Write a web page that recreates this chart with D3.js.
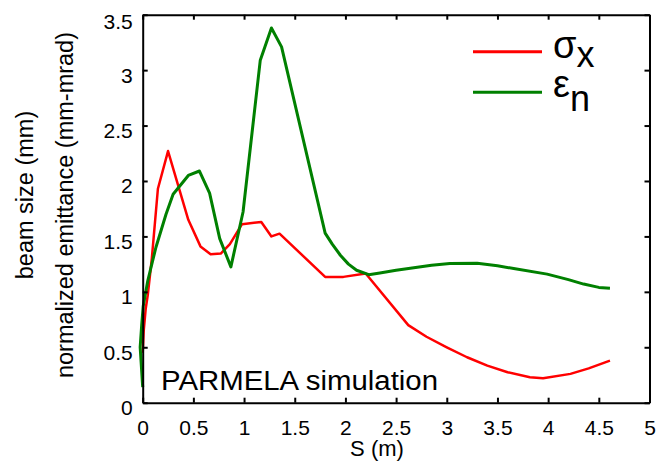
<!DOCTYPE html>
<html>
<head>
<meta charset="utf-8">
<script src="https://cdn.jsdelivr.net/npm/d3@7"></script>
<style>
  html, body { margin: 0; padding: 0; background: #fff; }
  svg { display: block; }
  text { font-family: "Liberation Sans", Arial, Helvetica, sans-serif; fill: #000; }
</style>
</head>
<body>
<svg id="chart" width="659" height="464"></svg>
<script>
// ---- data ----
const sigmaS = [0, 0.01, 0.03, 0.05, 0.09, 0.15, 0.25, 0.45, 0.57, 0.67, 0.77, 0.86, 0.98, 1.17, 1.27, 1.35, 1.80, 1.98, 2.20, 2.62, 2.80, 3.00, 3.20, 3.40, 3.60, 3.82, 3.95, 4.22, 4.40, 4.61];
const sigmaX = [0.45, 0.65, 0.85, 0.97, 1.30, 1.93, 2.27, 1.65, 1.41, 1.34, 1.345, 1.43, 1.61, 1.63, 1.50, 1.525, 1.135, 1.135, 1.165, 0.70, 0.595, 0.50, 0.41, 0.335, 0.275, 0.23, 0.22, 0.26, 0.31, 0.38];

const epsS = [0, -0.025, -0.01, 0.005, 0.05, 0.13, 0.23, 0.30, 0.45, 0.56, 0.66, 0.76, 0.87, 0.99, 1.16, 1.27, 1.37, 1.80, 1.87, 1.95, 2.03, 2.11, 2.23, 2.34, 2.50, 2.64, 2.85, 3.03, 3.30, 3.50, 3.66, 3.99, 4.20, 4.35, 4.50, 4.61];
const epsN = [0.14, 0.50, 0.70, 0.87, 1.10, 1.40, 1.70, 1.88, 2.05, 2.09, 1.89, 1.48, 1.225, 1.72, 3.09, 3.38, 3.21, 1.53, 1.43, 1.33, 1.25, 1.195, 1.155, 1.17, 1.195, 1.213, 1.24, 1.255, 1.258, 1.235, 1.21, 1.16, 1.11, 1.07, 1.04, 1.033];

const xTicks = [0, 0.5, 1, 1.5, 2, 2.5, 3, 3.5, 4, 4.5, 5];
const yTicks = [0, 0.5, 1, 1.5, 2, 2.5, 3, 3.5];
const xTickLabels = ["0", "0.5", "1", "1.5", "2", "2.5", "3", "3.5", "4", "4.5", "5"];
const yTickLabels = ["0", "0.5", "1", "1.5", "2", "2.5", "3", "3.5"];

const seriesNames = ["σ", "ε"];
const seriesSubs = ["x", "n"];
const seriesColors = ["#ff0000", "#008000"];

// ---- layout ----
const svg = d3.select("#chart");
const pLeft = 142.7, pRight = 649.5, pTop = 14.7, pBottom = 402.7;

const x = d3.scaleLinear().domain([0, 5]).range([pLeft, pRight]);
const y = d3.scaleLinear().domain([0, 3.5]).range([pBottom, pTop]);

// series lines
const line = d3.line().x(d => x(d[0])).y(d => y(d[1])).curve(d3.curveLinear);

const redData = sigmaS.map((s, i) => [s, sigmaX[i]]);
const greenData = epsS.map((s, i) => [s, epsN[i]]);

svg.append("path").datum(redData)
  .attr("d", line).attr("fill", "none")
  .attr("stroke", seriesColors[0]).attr("stroke-width", 2.5)
  .attr("stroke-linejoin", "round");

svg.append("path").datum(greenData)
  .attr("d", line).attr("fill", "none")
  .attr("stroke", seriesColors[1]).attr("stroke-width", 3)
  .attr("stroke-linejoin", "round");

// axes
function styleAxis(g) {
  g.select(".domain").attr("stroke", "#000").attr("stroke-width", 2);
  g.selectAll(".tick line").attr("stroke", "#000").attr("stroke-width", 2);
  g.selectAll(".tick text")
    .attr("font-family", "'Liberation Sans', Arial, sans-serif")
    .attr("font-size", 21).attr("fill", "#000");
}

const xAxisB = d3.axisBottom(x).tickValues(xTicks)
  .tickFormat((d, i) => xTickLabels[i]).tickSizeInner(-5).tickSizeOuter(0).tickPadding(17);
svg.append("g").attr("transform", `translate(0,${pBottom})`).call(xAxisB).call(styleAxis);

const xAxisT = d3.axisTop(x).tickValues(xTicks).tickFormat("").tickSizeInner(-5).tickSizeOuter(0);
svg.append("g").attr("transform", `translate(0,${pTop})`).call(xAxisT).call(styleAxis);

const yAxisL = d3.axisLeft(y).tickValues(yTicks)
  .tickFormat((d, i) => yTickLabels[i]).tickSizeInner(-5).tickSizeOuter(0).tickPadding(10);
const gl = svg.append("g").attr("transform", `translate(${pLeft},0)`).call(yAxisL).call(styleAxis);
gl.selectAll(".tick text").attr("dy", (d) => d === 3.5 ? "0.65em" : "0.57em");

const yAxisR = d3.axisRight(y).tickValues(yTicks).tickFormat("").tickSizeInner(-5).tickSizeOuter(0);
svg.append("g").attr("transform", `translate(${pRight},0)`).call(yAxisR).call(styleAxis);

// axis titles
svg.append("text").attr("x", 377).attr("y", 456)
  .attr("text-anchor", "middle").attr("font-size", 22).text("S (m)");

svg.append("text")
  .attr("transform", "translate(33,195) rotate(-90)")
  .attr("text-anchor", "middle").attr("font-size", 23.5).text("beam size (mm)");
svg.append("text")
  .attr("transform", "translate(73,205) rotate(-90)")
  .attr("text-anchor", "middle").attr("font-size", 23.5).text("normalized emittance (mm-mrad)");

// annotation
svg.append("text").attr("x", 161).attr("y", 390)
  .attr("font-size", 27).attr("textLength", 277).attr("lengthAdjust", "spacingAndGlyphs")
  .text("PARMELA simulation");

// legend
const legY = [51.7, 92.3];
const legBase = [58, 97];
seriesNames.forEach((name, i) => {
  svg.append("line")
    .attr("x1", 473).attr("x2", 542)
    .attr("y1", legY[i]).attr("y2", legY[i])
    .attr("stroke", seriesColors[i]).attr("stroke-width", 3);
  const t = svg.append("text").attr("x", 553).attr("y", legBase[i]).attr("font-size", 38);
  t.append("tspan").text(name);
  t.append("tspan").attr("dy", i === 0 ? 9 : 14).attr("font-size", 36).text(seriesSubs[i]);
});
</script>
</body>
</html>
